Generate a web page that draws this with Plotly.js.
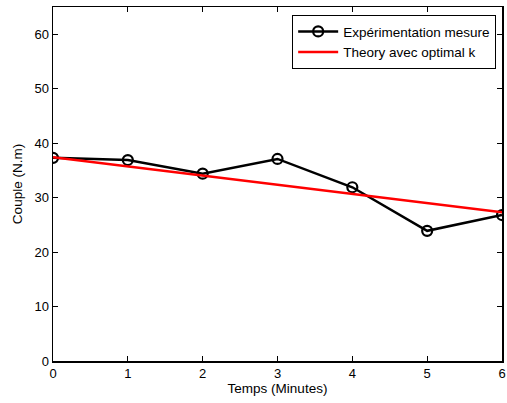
<!DOCTYPE html>
<html>
<head>
<meta charset="utf-8">
<script src="https://cdn.plot.ly/plotly-3.0.1.min.js"></script>
<style>html,body{margin:0;padding:0;background:#fff;}#chart{width:507px;height:403px;}</style>
</head>
<body>
<div id="chart"></div>
<script>
const temps = [0, 1, 2, 3, 4, 5, 6];
const mesure = [37.3, 36.9, 34.4, 37.1, 31.9, 23.9, 26.8];
const theoryX = [0, 6];
const theoryY = [37.4, 27.3];
const xTicks = [0, 1, 2, 3, 4, 5, 6];
const yTicks = [0, 10, 20, 30, 40, 50, 60];

const font = {family: 'Liberation Sans, Arial, sans-serif', color: '#000'};

Plotly.newPlot('chart', [
  {x: temps, y: mesure, name: 'Expérimentation mesure', mode: 'lines+markers',
   line: {color: '#000', width: 2.5},
   marker: {symbol: 'circle-open', size: 10, color: '#000', line: {width: 2.2, color: '#000'}}},
  {x: theoryX, y: theoryY, name: 'Theory avec optimal k', mode: 'lines',
   line: {color: '#ff0000', width: 2.5}}
], {
  width: 507, height: 403,
  margin: {l: 53, r: 5, t: 7, b: 42},
  paper_bgcolor: '#fff', plot_bgcolor: '#fff',
  font: Object.assign({size: 13}, font),
  showlegend: true,
  legend: {x: 0.987, y: 0.977, xanchor: 'right', yanchor: 'top',
           bordercolor: '#000', borderwidth: 1, bgcolor: '#fff',
           font: Object.assign({size: 13.5}, font), tracegroupgap: 0, itemwidth: 40},
  xaxis: {range: [0, 6], tickvals: xTicks, ticktext: xTicks.map(String),
          ticks: 'inside', ticklen: 5, tickwidth: 1, tickcolor: '#000',
          showline: true, linecolor: '#000', linewidth: 1.5, mirror: 'ticks',
          showgrid: false, zeroline: false,
          tickfont: Object.assign({size: 13}, font),
          title: {text: 'Temps (Minutes)', font: Object.assign({size: 13.5}, font), standoff: 2}},
  yaxis: {range: [0, 65], tickvals: yTicks, ticktext: yTicks.map(String),
          ticks: 'inside', ticklen: 5, tickwidth: 1, tickcolor: '#000',
          showline: true, linecolor: '#000', linewidth: 1.5, mirror: 'ticks',
          showgrid: false, zeroline: false,
          tickfont: Object.assign({size: 13}, font),
          title: {text: 'Couple (N.m)', font: Object.assign({size: 13.5}, font), standoff: 8}}
}, {displayModeBar: false, staticPlot: true});
</script>
</body>
</html>
